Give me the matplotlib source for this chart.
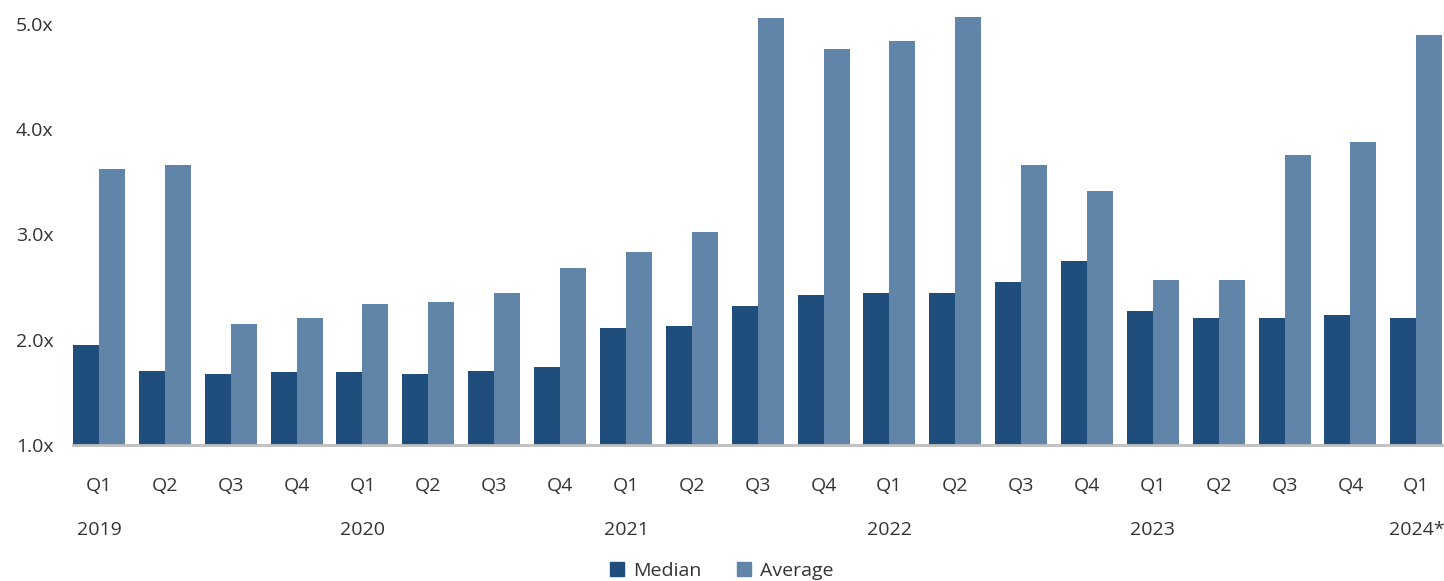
import numpy as np
import matplotlib.pyplot as plt
from matplotlib.patches import Patch

plt.rcParams['font.family'] = ['Open Sans', 'DejaVu Sans']

quarters = ['Q1', 'Q2', 'Q3', 'Q4'] * 5 + ['Q1']
years = ['2019', '2020', '2021', '2022', '2023', '2024*']
median = [1.95, 1.70, 1.67, 1.69, 1.69, 1.67, 1.70, 1.74, 2.11, 2.13, 2.32,
          2.42, 2.44, 2.44, 2.55, 2.75, 2.27, 2.21, 2.21, 2.23, 2.21]
average = [3.62, 3.66, 2.15, 2.21, 2.34, 2.36, 2.44, 2.68, 2.83, 3.02, 5.05,
           4.76, 4.84, 5.06, 3.66, 3.41, 2.57, 2.57, 3.75, 3.88, 4.89]

c_med = '#1F4E7D'
c_avg = '#6185A8'
txt = '#333333'

fig = plt.figure(figsize=(14.44, 5.81), dpi=100)
ax = fig.add_axes([73 / 1444, 1 - 445 / 581, (1444 - 73) / 1444, (445 - 10) / 581])

x = np.arange(len(quarters))
w = 0.395
ax.bar(x - w / 2, median, w, bottom=0, color=c_med)
ax.bar(x + w / 2, average, w, bottom=0, color=c_avg)

ax.set_ylim(1, 5.13)
ax.set_xlim(-0.395, 20.42)
ax.set_yticks([1, 2, 3, 4, 5])
ax.set_yticklabels(['1.0x', '2.0x', '3.0x', '4.0x', '5.0x'], fontsize=14, color=txt)
ax.tick_params(axis='y', length=0, pad=14)
ax.tick_params(axis='x', length=0, pad=23)
ax.set_xticks(x)
ax.set_xticklabels(quarters, fontsize=14, color=txt)

for s in ['top', 'right', 'left']:
    ax.spines[s].set_visible(False)
ax.spines['bottom'].set_color('#BFBFBF')
ax.spines['bottom'].set_linewidth(2)

for i, yr in enumerate(years):
    ax.text(i * 4, -0.195, yr, transform=ax.get_xaxis_transform(), ha='center',
            va='center', fontsize=14, color=txt)

handles = [Patch(color=c_med, label='Median'), Patch(color=c_avg, label='Average')]
fig.legend(handles=handles, loc='center', bbox_to_anchor=(0.5, 1 - 571 / 581), ncol=2,
           frameon=False, fontsize=14, handlelength=0.7, handleheight=0.7,
           handletextpad=0.5, columnspacing=1.8, labelcolor=txt)

fig.savefig('out.png', dpi=100)
